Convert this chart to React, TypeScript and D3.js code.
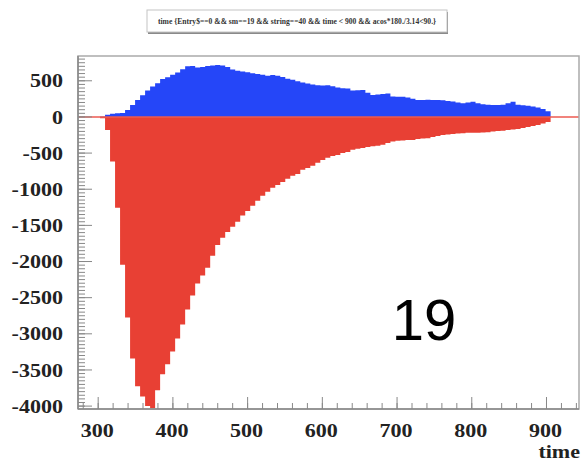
import React from "react";
import * as d3 from "d3";

const binStart = 302.5;
const binWidth = 6.7;

const negativeCounts = [
  -18, -180, -617, -1257, -2044, -2776, -3343, -3725, -3867, -4000,
  -4030, -3780, -3560, -3420, -3245, -3065, -2870, -2665, -2470, -2305,
  -2195, -2085, -1920, -1770, -1670, -1590, -1520, -1450, -1365, -1300,
  -1230, -1160, -1090, -1035, -980, -940, -900, -855, -815, -790,
  -730, -705, -675, -635, -595, -565, -540, -525, -500, -485,
  -455, -440, -430, -415, -405, -400, -385, -360, -340, -330,
  -325, -318, -318, -305, -297, -295, -276, -262, -250, -242,
  -235, -228, -225, -220, -220, -217, -215, -212, -200, -194,
  -190, -180, -172, -166, -152, -138, -124, -110, -90, -70,
];

const positiveCounts = [
  5, 30, 45, 50, 55, 97, 165, 235, 300, 365,
  420, 465, 525, 550, 585, 615, 660, 700, 705, 685,
  690, 705, 712, 718, 712, 690, 655, 640, 630, 617,
  605, 595, 585, 570, 580, 570, 552, 530, 515, 495,
  478, 462, 450, 440, 435, 438, 425, 408, 396, 392,
  365, 368, 373, 335, 304, 310, 318, 325, 282, 280,
  278, 268, 250, 235, 236, 238, 233, 236, 232, 222,
  212, 200, 190, 200, 210, 190, 176, 170, 166, 165,
  167, 190, 210, 170, 162, 156, 145, 130, 110, 80,
];

const timeTicks = [300, 400, 500, 600, 700, 800, 900];
const valueTicks = [500, 0, -500, -1000, -1500, -2000, -2500, -3000, -3500, -4000];
const titleText = "time {Entry$==0 && sm==19 && string==40 && time < 900 && acos*180./3.14<90.}";
const xTitle = "time";
const bigLabel = "19";

const W = 581;
const H = 464;
const frame = { left: 78, right: 579, top: 56, bottom: 409 };

export default function App() {
  const x = d3.scaleLinear().domain([273, 943.5]).range([frame.left, frame.right]);
  const y = d3.scaleLinear().domain([-4040, 843]).range([frame.bottom, frame.top]);

  const toPts = (vals: number[]) => {
    const pts = vals.map((v, i) => ({ t: binStart + i * binWidth, v }));
    pts.push({ t: binStart + vals.length * binWidth, v: vals[vals.length - 1] });
    return pts;
  };

  const area = d3
    .area<{ t: number; v: number }>()
    .x((d) => x(d.t))
    .y0(() => y(0))
    .y1((d) => y(d.v))
    .curve(d3.curveStepAfter);

  const redPath = area(toPts(negativeCounts)) || "";
  const bluePath = area(toPts(positiveCounts)) || "";

  const xMinor: number[] = [];
  for (let t = 280; t <= 940; t += 20) xMinor.push(t);
  const yMinor: number[] = [];
  for (let v = -4000; v <= 800; v += 50) yMinor.push(v);

  const labelFont = "'Liberation Serif', 'Times New Roman', serif";
  const sx = 1.16;

  return (
    <svg
      width={W}
      height={H}
      style={{ position: "absolute", left: 0, top: 0, background: "#fff" }}
    >
      <rect x={0} y={0} width={W} height={H} fill="#fff" />
      {/* title box */}
      <rect x={148} y={12} width={300} height={22} fill="#8a8a8a" />
      <rect x={147} y={10} width={300} height={22} fill="#fff" stroke="#c4c4c4" strokeWidth={1} />
      <text
        x={297}
        y={24}
        textAnchor="middle"
        fontFamily={labelFont}
        fontWeight="bold"
        fontSize={7.6}
        fill="#333"
      >
        {titleText}
      </text>

      {/* histograms */}
      <path d={redPath} fill="#e84034" />
      <path d={bluePath} fill="#2546f8" />
      <line
        x1={frame.left}
        x2={frame.right}
        y1={y(0)}
        y2={y(0)}
        stroke="#ec5a50"
        strokeWidth={1.6}
      />

      {/* frame */}
      <rect
        x={frame.left}
        y={frame.top}
        width={frame.right - frame.left}
        height={frame.bottom - frame.top}
        fill="none"
        stroke="#aaa"
        strokeWidth={1.5}
      />
      <line x1={frame.left} x2={frame.left} y1={frame.top} y2={frame.bottom} stroke="#888" strokeWidth={1.5} />
      <line x1={frame.left} x2={frame.right} y1={frame.bottom} y2={frame.bottom} stroke="#888" strokeWidth={1.5} />

      {/* y ticks */}
      {yMinor.map((v) => (
        <line key={"ym" + v} x1={frame.left} x2={frame.left + 7} y1={y(v)} y2={y(v)} stroke="#888" strokeWidth={1} />
      ))}
      {valueTicks.map((v) => (
        <g key={"y" + v}>
          <line x1={frame.left} x2={frame.left + 14} y1={y(v)} y2={y(v)} stroke="#888" strokeWidth={1} />
          <text
            transform={`translate(63,${y(v)}) scale(${sx},1)`}
            dy="0.35em"
            textAnchor="end"
            fontFamily={labelFont}
            fontWeight="bold"
            fontSize={19}
            fill="#222"
          >
            {v}
          </text>
        </g>
      ))}

      {/* x ticks */}
      {xMinor.map((t) => (
        <line key={"xm" + t} x1={x(t)} x2={x(t)} y1={frame.bottom} y2={frame.bottom - 6} stroke="#888" strokeWidth={1} />
      ))}
      {timeTicks.map((t) => (
        <g key={"x" + t}>
          <line x1={x(t)} x2={x(t)} y1={frame.bottom} y2={frame.bottom - 12} stroke="#888" strokeWidth={1} />
          <text
            transform={`translate(${x(t) - 1},437) scale(${sx},1)`}
            textAnchor="middle"
            fontFamily={labelFont}
            fontWeight="bold"
            fontSize={19}
            fill="#222"
          >
            {t}
          </text>
        </g>
      ))}
      <text
        transform={`translate(580,458) scale(${sx},1)`}
        textAnchor="end"
        fontFamily={labelFont}
        fontWeight="bold"
        fontSize={19}
        fill="#222"
      >
        {xTitle}
      </text>

      <text
        x={424}
        y={340}
        textAnchor="middle"
        fontFamily="'Liberation Sans', Arial, sans-serif"
        fontSize={58}
        fill="#000"
      >
        {bigLabel}
      </text>
    </svg>
  );
}
